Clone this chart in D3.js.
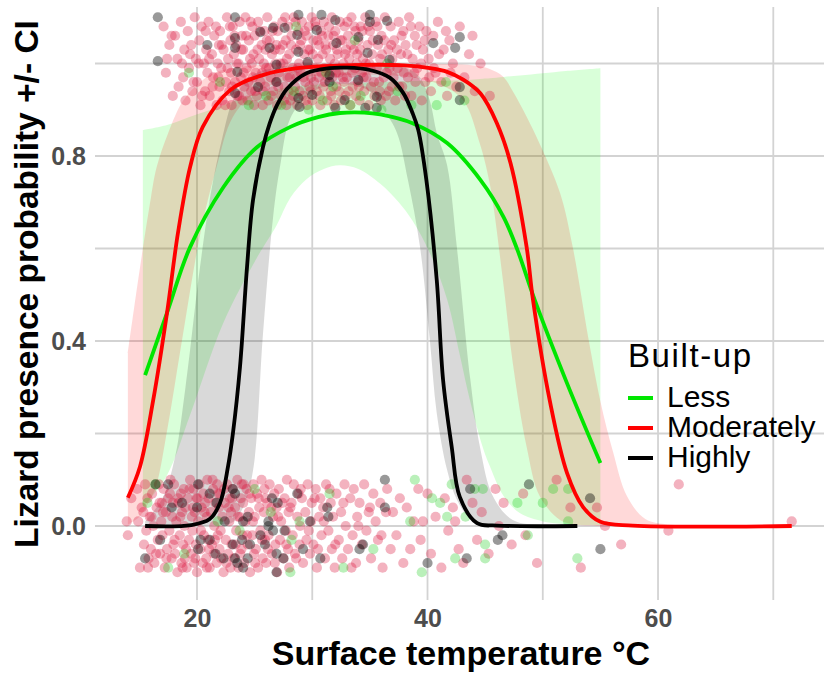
<!DOCTYPE html>
<html>
<head>
<meta charset="utf-8">
<script src="https://cdn.jsdelivr.net/npm/d3@7"></script>
<style>
  body { margin: 0; background: #fff; }
  svg { display: block; font-family: "Liberation Sans", Arial, Helvetica, sans-serif; }
</style>
</head>
<body>
<div id="chart"></div>
<script>
// groups, in legend order
const groups = ["Less", "Moderately", "Highly"]
const lineColors = { Less: "#00e600", Moderately: "#ff0000", Highly: "#000000" }

// fitted curves: [temperature, probability]
const fitLess = [[15.5,0.326],[17.4,0.461],[19.4,0.603],[22.3,0.733],[25.2,0.819],[28.1,0.863],[30.5,0.884],[32.4,0.893],[34.5,0.894],[35.9,0.89],[38.7,0.871],[41.7,0.828],[44.6,0.748],[46.6,0.668],[47.8,0.597],[49.3,0.489],[52.1,0.309],[55.0,0.136]]
const fitModerately = [[14.0,0.061],[15.05,0.128],[16.2,0.272],[17.4,0.461],[18.35,0.634],[19.4,0.776],[20.5,0.863],[22.9,0.943],[25.7,0.975],[28.7,0.99],[34.4,0.997],[38.0,0.996],[40.2,0.99],[41.7,0.982],[43.1,0.965],[44.6,0.935],[46.0,0.872],[47.2,0.785],[48.6,0.603],[49.15,0.489],[50.6,0.272],[52.1,0.115],[53.5,0.041],[55.0,0.009],[57.8,0.001],[71.6,0]]
const fitHighly = [[15.5,0],[19.5,0.002],[21.1,0.015],[22.0,0.05],[22.7,0.13],[23.12,0.201],[23.73,0.344],[24.34,0.56],[24.86,0.705],[25.73,0.82],[26.3,0.87],[26.94,0.91],[27.8,0.945],[29.5,0.979],[31.5,0.99],[33.0,0.991],[35.0,0.986],[36.75,0.969],[37.9,0.936],[38.7,0.893],[39.2,0.856],[39.9,0.748],[40.8,0.532],[41.35,0.316],[42.1,0.171],[42.8,0.063],[44.3,0.006],[46.0,0.001],[53.0,0]]

// confidence bands: [temperature, lower, upper]
const ciLess = [[15.3,0.04,0.856],[17.4,0.11,0.867],[19.4,0.24,0.885],[22.3,0.44,0.91],[25.2,0.58,0.935],[26.9,0.65,0.944],[28.1,0.71,0.95],[29.5,0.75,0.953],[31,0.772,0.955],[32.4,0.78,0.956],[34,0.772,0.958],[35.9,0.74,0.96],[37.5,0.70,0.961],[38.7,0.66,0.962],[40.2,0.59,0.962],[41.7,0.49,0.963],[42.8,0.37,0.964],[43.7,0.27,0.965],[44.8,0.17,0.967],[45.4,0.13,0.968],[46.6,0.065,0.971],[48,0.028,0.974],[50,0.01,0.979],[52,0.004,0.984],[55,0.002,0.99]]
const ciModerately = [[14,0.003,0.374],[15,0.02,0.55],[16,0.06,0.71],[16.5,0.09,0.776],[17.5,0.22,0.85],[18.8,0.417,0.92],[20.3,0.633,0.96],[21.7,0.776,0.982],[23.1,0.884,0.99],[25,0.935,0.996],[28,0.965,0.999],[33,0.975,0.999],[38,0.972,0.999],[41,0.955,0.999],[43.1,0.92,0.998],[44.5,0.83,0.994],[45.4,0.74,0.988],[46.55,0.53,0.972],[47.4,0.352,0.94],[48.6,0.171,0.885],[49.76,0.063,0.825],[51.5,0.013,0.72],[52.6,0.004,0.603],[54,0.001,0.4],[55,0,0.27],[56.1,0,0.16],[57.3,0,0.065],[58.9,0,0.015],[61,0,0.003],[65,0,0.0005],[71.6,0,0]]
const ciHighly = [[15.5,0,0.01],[17,0,0.06],[18.1,0,0.15],[19,0,0.3],[20.26,0.0005,0.56],[21.2,0.001,0.72],[22.2,0.003,0.84],[23.1,0.008,0.92],[24,0.04,0.955],[24.86,0.12,0.975],[25.73,0.417,0.985],[26.6,0.667,0.99],[27.2,0.776,0.993],[28.07,0.88,0.996],[29.5,0.93,0.998],[31,0.95,0.999],[33,0.955,0.999],[35,0.94,0.999],[36.2,0.9,0.998],[37.35,0.85,0.995],[38.3,0.748,0.99],[39.35,0.603,0.97],[40.2,0.402,0.92],[40.8,0.244,0.85],[41.7,0.121,0.78],[42.56,0.056,0.6],[43.7,0.015,0.32],[44.56,0.006,0.17],[45.7,0.002,0.063],[47.4,0.0005,0.013],[50,0,0.002],[53,0,0]]

// jittered observations: [temperature, presence]
const obsModerately = [
  [17.1,1.08],[17.3,0.98],[17.6,1.04],[17.9,0.93],[18.1,1.06],[18.3,1.01],[18.4,0.95],[18.6,1.09],[18.8,0.97],[18.9,1.03],
  [19.0,0.92],[19.2,1.07],[19.3,0.99],[19.5,1.04],[19.6,0.94],[19.8,1.10],[19.9,1.01],[20.0,0.96],[20.2,1.05],[20.3,0.91],
  [20.4,1.08],[20.6,1.00],[20.7,0.94],[20.8,1.03],[20.9,0.98],[21.0,1.09],[21.1,0.93],[21.3,1.02],[21.4,0.97],[21.5,1.06],
  [21.7,0.91],[21.8,1.00],[21.9,1.04],[21.95,0.95],[22.0,1.07],[22.1,0.99],[22.2,0.92],[22.3,1.03],[22.5,0.96],[22.6,1.10],
  [22.7,1.01],[22.8,0.94],[22.9,1.05],[22.95,0.98],[23.0,0.91],[23.1,1.08],[23.2,1.02],[23.3,0.96],[23.4,1.04],[23.5,0.93],
  [23.6,1.00],[23.7,1.09],[23.8,0.97],[23.9,1.06],[23.95,0.92],[24.0,1.03],[24.1,0.95],[24.2,1.10],[24.3,0.99],[24.4,0.92],
  [24.5,1.05],[24.6,1.01],[24.7,0.94],[24.8,1.08],[24.85,0.97],[24.9,1.02],[24.95,0.91],[25.0,1.06],[25.1,0.98],[25.2,0.93],
  [25.3,1.09],[25.4,1.01],[25.5,0.96],[25.6,1.04],[25.7,0.91],[25.8,1.00],[25.85,1.07],[25.9,0.95],[25.95,1.03],[26.0,0.99],
  [26.1,1.10],[26.2,0.92],[26.3,1.05],[26.4,0.97],[26.5,1.02],[26.6,0.94],[26.7,1.08],[26.8,1.00],[26.85,0.96],[26.9,1.04],
  [26.95,0.91],[27.0,1.07],[27.1,0.98],[27.2,1.03],[27.3,0.93],[27.4,1.09],[27.5,1.00],[27.6,0.95],[27.7,1.05],[27.75,0.91],
  [27.8,1.01],[27.85,0.97],[27.9,1.08],[27.95,0.94],[28.0,1.02],[28.1,0.92],[28.2,1.06],[28.3,0.99],[28.4,1.10],[28.5,0.95],
  [28.6,1.03],[28.65,0.97],[28.7,0.91],[28.8,1.07],[28.85,1.00],[28.9,0.94],[28.95,1.04],[29.0,0.98],[29.1,1.09],[29.2,0.93],
  [29.3,1.02],[29.4,0.96],[29.5,1.06],[29.55,0.91],[29.6,1.00],[29.7,1.08],[29.75,0.95],[29.8,1.03],[29.9,0.97],[29.95,1.10],
  [30.0,0.92],[30.1,1.05],[30.2,0.99],[30.3,1.08],[30.4,0.94],[30.5,1.01],[30.55,0.97],[30.6,1.04],[30.7,0.91],[30.75,1.07],
  [30.8,0.98],[30.9,1.02],[30.95,0.95],[31.0,1.09],[31.1,0.96],[31.2,1.03],[31.3,0.92],[31.4,1.06],[31.5,0.99],[31.55,1.01],
  [31.6,0.94],[31.7,1.10],[31.75,0.97],[31.8,1.04],[31.9,0.91],[31.95,1.00],[32.0,1.07],[32.1,0.95],[32.2,1.02],[32.3,0.98],
  [32.4,1.09],[32.5,0.92],[32.6,1.05],[32.7,1.00],[32.75,0.96],[32.8,1.08],[32.9,0.93],[32.95,1.03],[33.0,0.97],[33.1,1.06],
  [33.2,1.01],[33.3,0.91],[33.4,1.10],[33.5,0.95],[33.6,1.03],[33.7,0.99],[33.75,1.07],[33.8,0.93],[33.9,1.02],[33.95,0.96],
  [34.0,1.05],[34.1,0.92],[34.2,1.08],[34.3,0.98],[34.4,1.01],[34.5,0.94],[34.6,1.10],[34.7,0.97],[34.8,1.04],[34.9,0.91],
  [34.95,1.00],[35.0,1.07],[35.1,0.95],[35.2,1.02],[35.4,0.93],[35.5,1.09],[35.6,0.99],[35.7,1.04],[35.8,0.96],[35.9,1.01],
  [35.95,0.92],[36.0,1.06],[36.2,0.97],[36.3,1.10],[36.4,0.93],[36.6,1.03],[36.7,0.99],[36.8,1.08],[36.9,0.95],[36.95,1.01],
  [37.1,1.05],[37.2,0.92],[37.4,0.99],[37.5,1.09],[37.7,1.02],[37.8,0.95],[37.9,1.07],[37.95,0.98],[38.1,1.04],[38.3,0.97],
  [38.4,1.10],[38.6,0.93],[38.7,1.01],[38.9,1.06],[38.95,0.96],[39.1,0.99],[39.3,1.08],[39.5,0.92],[39.6,1.03],[39.8,0.96],
  [39.9,1.07],[40.1,1.01],[40.3,0.94],[40.5,1.06],[40.7,0.98],[40.9,1.09],[41.2,0.96],[41.4,1.03],[41.7,0.93],[41.9,1.05],
  [42.2,1.00],[42.5,0.95],[42.8,1.08],[43.2,0.97],[43.6,1.02],[44.1,0.94],[45.4,0.93],
  [20.15,1.00],[20.45,0.93],[20.75,1.07],[21.05,1.01],[21.35,0.95],[21.65,1.08],[21.85,0.97],[22.15,1.04],[22.45,0.91],[22.65,0.99],
  [22.85,1.08],[23.05,0.95],[23.25,1.06],[23.45,1.00],[23.65,0.93],[23.85,1.03],[24.05,0.98],[24.25,1.06],[24.45,0.96],[24.65,1.09],
  [24.75,1.00],[25.05,0.94],[25.25,1.03],[25.45,1.07],[25.65,0.98],[25.75,0.94],[26.05,1.05],[26.25,0.99],[26.45,0.93],[26.55,1.07],
  [26.75,1.03],[27.05,0.95],[27.25,1.00],[27.45,1.04],[27.55,0.92],[27.65,1.10],[28.05,0.97],[28.15,1.04],[28.35,0.93],[28.55,1.09],
  [28.75,0.99],[29.05,1.05],[29.25,0.97],[29.35,1.07],[29.45,0.92],[29.65,1.03],[29.85,0.94],[30.05,1.02],[30.15,0.96],[30.25,1.09],
  [30.45,1.05],[30.65,0.93],[30.85,1.06],[31.05,0.99],[31.15,1.04],[31.35,0.97],[31.45,1.08],[31.65,0.93],[31.85,1.06],[32.05,0.98],
  [32.15,1.03],[32.35,0.94],[32.45,1.05],[32.65,0.97],[32.85,1.02],[33.05,1.09],[33.15,0.94],[33.35,1.04],[33.45,0.98],[33.65,1.08],
  [33.85,1.00],[34.05,0.95],[34.15,1.03],[34.35,1.07],[34.45,0.97],[34.65,1.00],[34.85,1.08],[35.05,0.99],[35.25,1.05],[35.35,0.96],
  [35.65,1.08],[35.85,0.94],[36.05,1.02],[36.25,1.05],[36.45,0.98],[36.65,0.94],[36.85,1.04],[37.05,0.97],[37.35,1.03],[37.55,0.95],
  [37.75,1.06],[38.05,0.93],[38.25,1.02],[38.55,1.08],[38.85,0.98],[39.05,1.04],[39.45,1.00],[39.75,1.05],[40.15,0.97],[40.55,0.99],
  [19.4,1.02],[19.7,0.96],[18.7,1.00],[17.4,1.01],[17.8,1.06],[41.0,1.02],[41.6,1.07],[42.0,0.98],[43.9,1.06],[44.6,1.00],
  [13.9,0.01],[14.0,-0.02],[14.3,0.06],[14.8,0.08],[14.9,0.01],[15.05,-0.09],[15.2,0.04],[15.4,-0.04],[15.5,0.09],[15.6,-0.01],
  [15.7,0.06],[15.8,-0.07],[15.9,0.02],[16.0,-0.05],[16.1,0.07],[16.2,0.00],[16.3,-0.08],[16.5,0.04],[16.6,-0.03],[16.7,0.09],
  [16.8,-0.06],[16.9,0.01],[16.95,0.05],[17.0,-0.02],[17.1,0.08],[17.2,-0.09],[17.3,0.03],[17.4,-0.05],[17.5,0.06],[17.6,-0.01],
  [17.7,0.10],[17.8,-0.07],[17.85,0.02],[17.9,0.05],[17.95,-0.04],[18.0,0.09],[18.1,-0.06],[18.2,0.01],[18.3,-0.10],[18.4,0.05],
  [18.5,-0.02],[18.6,0.07],[18.65,-0.08],[18.7,0.03],[18.8,-0.04],[18.85,0.08],[18.9,0.00],[18.95,-0.07],[19.0,0.04],[19.1,-0.09],
  [19.2,0.06],[19.3,-0.03],[19.4,0.10],[19.5,-0.06],[19.55,0.02],[19.6,-0.01],[19.7,0.08],[19.75,-0.08],[19.8,0.03],[19.9,-0.04],
  [19.95,0.06],[20.0,-0.10],[20.1,0.01],[20.2,0.09],[20.3,-0.05],[20.4,0.04],[20.5,-0.08],[20.55,0.07],[20.6,-0.02],[20.7,0.05],
  [20.8,-0.07],[20.85,0.02],[20.9,0.10],[20.95,-0.03],[21.0,0.06],[21.1,-0.09],[21.2,0.03],[21.3,-0.04],[21.4,0.08],[21.45,-0.06],
  [21.5,0.00],[21.6,0.05],[21.7,-0.08],[21.75,0.09],[21.8,-0.02],[21.9,0.04],[21.95,-0.05],[22.0,0.07],[22.1,-0.07],[22.2,0.02],
  [22.3,-0.10],[22.4,0.05],[22.5,-0.03],[22.6,0.09],[22.7,-0.06],[22.8,0.01],[22.85,0.06],[22.9,-0.09],[22.95,0.03],[23.0,-0.04],
  [23.1,0.08],[23.2,-0.07],[23.3,0.04],[23.4,-0.01],[23.5,0.10],[23.6,-0.09],[23.7,0.02],[23.8,0.06],[23.85,-0.05],[23.9,0.09],
  [23.95,-0.02],[24.0,0.05],[24.1,-0.08],[24.2,0.01],[24.3,0.08],[24.4,-0.04],[24.5,0.03],[24.6,-0.10],[24.7,0.06],[24.8,-0.02],
  [24.9,0.09],[24.95,-0.06],[25.0,0.02],[25.1,-0.05],[25.2,0.07],[25.3,-0.09],[25.4,0.04],[25.5,-0.01],[25.6,0.10],[25.7,-0.07],
  [25.8,0.03],[25.9,-0.03],[25.95,0.06],[26.0,-0.08],[26.1,0.05],[26.2,-0.02],[26.3,0.09],[26.5,-0.06],[26.6,0.02],[26.7,0.07],
  [26.8,-0.04],[26.9,0.04],[26.95,-0.10],[27.1,0.08],[27.2,-0.03],[27.3,0.01],[27.5,-0.07],[27.6,0.06],[27.7,-0.01],[27.8,0.10],
  [27.9,-0.05],[27.95,0.03],[28.0,-0.09],[28.2,0.05],[28.3,-0.02],[28.4,0.09],[28.5,-0.06],[28.7,0.02],[28.8,0.07],[28.9,-0.04],
  [28.95,0.00],[29.1,0.06],[29.2,-0.08],[29.4,0.03],[29.5,-0.03],[29.6,0.09],[29.8,-0.06],[29.9,0.01],[29.95,0.05],[30.1,-0.04],
  [30.3,0.08],[30.4,-0.09],[30.6,0.02],[30.7,0.06],[30.8,-0.02],[30.95,0.04],[31.1,-0.07],[31.2,0.09],[31.4,-0.01],[31.6,0.05],
  [31.7,-0.05],[31.8,0.02],[31.95,-0.09],[32.1,0.07],[32.3,-0.03],[32.5,0.03],[32.6,-0.07],[32.8,0.09],[32.9,0.00],[33.1,-0.05],
  [33.3,0.06],[33.5,-0.02],[33.6,0.08],[33.8,-0.08],[33.9,0.02],[34.1,0.05],[34.3,-0.04],[34.5,0.09],[34.7,-0.01],[34.9,0.03],
  [35.1,-0.07],[35.3,0.07],[35.5,0.01],[35.7,-0.03],[35.9,0.05],[36.1,-0.09],[36.4,0.03],[36.5,0.08],[36.8,-0.05],[37.0,0.03],
  [37.3,-0.02],[37.6,0.06],[37.9,-0.08],[38.2,0.04],[38.5,-0.05],[38.8,0.01],[39.2,0.08],[39.4,-0.03],[39.6,0.01],[40.0,0.07],
  [40.3,-0.06],[40.7,0.02],[41.2,-0.09],[41.5,0.06],[41.8,-0.01],[42.2,0.04],[42.4,0.01],[42.7,-0.05],[43.1,-0.08],[43.4,0.10],
  [43.9,0.05],[44.3,-0.03],[44.7,0.03],[45.3,-0.06],[45.9,0.08],[46.2,0.00],[46.6,0.05],[47.3,-0.04],[48.3,0.07],[48.5,-0.02],
  [49.5,-0.08],[51.2,0.10],[52.4,0.04],[53.3,-0.09],[54.7,0.04],[55.4,0.00],[56.8,-0.04],[60.9,-0.01],[61.8,0.09],[71.6,0.01],
  [15.35,0.03],[15.75,-0.09],[16.05,0.02],[16.45,-0.06],[16.75,0.05],[17.05,0.03],[17.35,-0.07],[17.65,0.07],[18.05,-0.03],[18.35,0.06],
  [18.55,0.02],[18.75,-0.09],[19.05,-0.05],[19.35,0.08],[19.65,0.04],[19.85,-0.07],[20.05,0.06],[20.35,-0.01],[20.65,0.03],[20.85,-0.09],
  [21.05,-0.05],[21.35,0.10],[21.55,-0.03],[21.85,0.07],[22.05,-0.01],[22.35,0.08],[22.55,-0.08],[22.75,0.04],[23.05,0.06],[23.35,-0.04],
  [23.55,0.02],[23.75,-0.06],[24.05,0.09],[24.35,-0.02],[24.55,0.07],[24.85,0.01],[25.05,-0.08],[25.35,0.06],[25.65,-0.03],[25.85,0.08],
  [26.15,-0.05],[26.45,0.04],[26.75,-0.08],[27.05,0.02],[27.4,0.05],[27.75,-0.04],[28.1,0.04],[28.6,-0.07],[29.0,0.08],[29.7,-0.01],
  [30.2,0.06],[30.5,-0.05],[31.0,0.01],[31.5,0.08],[32.0,-0.04],[32.7,0.05],[33.4,-0.09],[34.0,0.00],[35.0,0.04],[36.0,-0.02]
]
const obsLess = [
  [24.5,0.91],[26.0,0.93],[27.3,0.91],[28.4,0.94],[29.7,0.90],[30.9,0.92],[31.8,0.95],[33.3,0.91],[34.2,0.93],[36.0,0.90],
  [37.4,0.94],[38.6,0.91],[40.8,0.91],[41.6,0.96],[43.2,0.92],[22.0,0.96],[19.3,0.98],[33.7,1.05],[28.6,1.08],[36.5,1.00],[31.2,0.98],
  [16.4,0.09],[17.5,-0.09],[21.8,0.01],[25.0,0.08],[28.2,-0.03],[28.1,-0.10],[28.9,0.01],[31.5,0.07],[32.7,-0.09],[35.3,-0.05],
  [38.5,0.01],[38.9,0.10],[39.5,-0.10],[40.4,0.06],[41.1,0.05],[41.7,0.02],[42.1,0.09],[42.4,-0.07],[43.3,0.02],[44.1,0.08],
  [44.8,0.08],[45.0,-0.04],[45.0,-0.07],[47.8,0.05],[48.7,-0.02],[50.0,0.05],[50.9,0.08],[52.2,0.08],[52.2,0.01],[53.0,-0.07],
  [15.7,0.05],[18.9,-0.06],[23.7,-0.01],[26.4,0.03]
]
const obsHighly = [
  [16.6,1.10],[16.6,1.005],[20.9,1.04],[23.3,1.10],[23.3,1.055],[23.3,1.034],[23.5,0.982],[23.3,0.936],[25.5,1.068],[25.3,0.949],
  [26.6,1.077],[26.3,1.034],[26.9,0.997],[26.9,0.96],[27.6,1.077],[28.8,1.105],[28.7,1.062],[28.8,1.025],[28.8,0.925],[28.9,0.906],
  [29.6,1.003],[30.0,0.932],[30.4,1.072],[30.8,1.105],[31.5,0.975],[31.5,0.96],[32.0,1.094],[32.1,1.044],[32.0,0.904],[32.8,0.921],
  [34.0,1.057],[34.0,0.964],[34.6,0.904],[34.8,1.023],[35.0,1.105],[35.0,1.09],[35.7,1.051],[35.6,0.928],[35.6,0.904],[36.5,1.092],
  [36.7,1.008],[40.5,1.044],[42.4,1.034],[42.8,1.057],[42.8,0.949],[42.8,0.921],
  [15.5,-0.07],[16.4,0.09],[16.8,-0.03],[17.5,0.09],[17.8,0.04],[18.7,0.05],[20.0,0.04],[20.1,0.09],[20.1,-0.05],[20.3,-0.03],
  [21.1,0.07],[21.1,-0.03],[21.6,-0.06],[21.7,0.05],[22.3,-0.07],[22.4,0.01],[23.1,0.08],[23.1,-0.04],[23.3,0.07],[23.3,-0.07],
  [23.5,-0.08],[23.9,-0.03],[24.0,0.01],[24.0,-0.09],[24.4,0.02],[24.4,-0.07],[24.6,-0.04],[25.5,-0.02],[25.9,-0.04],[26.2,0.01],
  [26.2,0.00],[26.5,0.06],[26.6,-0.01],[26.9,-0.06],[26.9,-0.10],[27.0,0.05],[27.5,-0.07],[27.6,-0.01],[28.7,0.07],[29.2,-0.05],
  [29.8,0.01],[30.7,-0.07],[31.3,0.04],[31.4,0.02],[34.1,-0.05],[34.4,-0.04],[36.3,0.10],[36.3,0.04],[40.0,-0.08],[43.4,-0.07],
  [43.7,0.08],[46.1,-0.03],[46.5,-0.02],[48.8,0.09],[54.1,0.06],[55.0,-0.05]
]

const fits = { Less: fitLess, Moderately: fitModerately, Highly: fitHighly }
const cis = { Less: ciLess, Moderately: ciModerately, Highly: ciHighly }
const pointSets = [
  { data: obsModerately, color: "#dc143c", opacity: 0.33 },
  { data: obsLess, color: "#00c800", opacity: 0.27 },
  { data: obsHighly, color: "#000000", opacity: 0.4 }
]

const xTicks = [20, 40, 60]
const xMinor = [30, 50, 70]
const yTicks = [0, 0.4, 0.8]
const yMinor = [0.2, 0.6, 1.0]

const width = 826
const height = 673
const margin = { top: 7, right: 2, bottom: 73, left: 95 }

const x = d3.scaleLinear().domain([11.15, 74.4]).range([margin.left, width - margin.right])
const y = d3.scaleLinear().domain([-0.16, 1.1222]).range([height - margin.bottom, margin.top])

const svg = d3.select("#chart").append("svg")
  .attr("width", width)
  .attr("height", height)

// grid
const grid = svg.append("g").attr("stroke", "#d3d3d3").attr("stroke-width", 1.8)
grid.selectAll(".gx")
  .data(xTicks.concat(xMinor))
  .join("line")
  .attr("x1", d => x(d)).attr("x2", d => x(d))
  .attr("y1", y.range()[1]).attr("y2", y.range()[0])
grid.selectAll(".gy")
  .data(yTicks.concat(yMinor))
  .join("line")
  .attr("x1", x.range()[0]).attr("x2", x.range()[1])
  .attr("y1", d => y(d)).attr("y2", d => y(d))

const smooth = d3.curveCatmullRom.alpha(0.5)

// confidence ribbons
const area = d3.area()
  .x(d => x(d[0]))
  .y0(d => y(d[1]))
  .y1(d => y(d[2]))
  .curve(smooth)

svg.append("g").selectAll("path")
  .data(groups)
  .join("path")
  .attr("d", g => area(cis[g]))
  .attr("fill", g => g === "Less" ? "#00ff00" : lineColors[g])
  .attr("fill-opacity", 0.15)

// jittered observations
pointSets.forEach(set => {
  svg.append("g").selectAll("circle")
    .data(set.data)
    .join("circle")
    .attr("cx", d => x(d[0]))
    .attr("cy", d => y(d[1]))
    .attr("r", 5.1)
    .attr("fill", set.color)
    .attr("fill-opacity", set.opacity)
})

// fitted curves
const line = d3.line()
  .x(d => x(d[0]))
  .y(d => y(d[1]))
  .curve(smooth)

svg.append("g").selectAll("path")
  .data(groups)
  .join("path")
  .attr("d", g => line(fits[g]))
  .attr("fill", "none")
  .attr("stroke", g => lineColors[g])
  .attr("stroke-width", 3.8)

// axes (labels only)
const xAxis = svg.append("g")
  .attr("transform", `translate(0,${y.range()[0]})`)
  .call(d3.axisBottom(x).tickValues(xTicks).tickSize(0).tickPadding(9))
const yAxis = svg.append("g")
  .attr("transform", `translate(${margin.left},0)`)
  .call(d3.axisLeft(y).tickValues(yTicks).tickSize(0).tickPadding(9).tickFormat(d3.format(".1f")))

;[xAxis, yAxis].forEach(a => {
  a.select(".domain").remove()
  a.selectAll("text")
    .attr("font-family", "Liberation Sans, Arial, sans-serif")
    .attr("font-size", 25)
    .attr("font-weight", "bold")
    .attr("fill", "#4d4d4d")
})

// axis titles
svg.append("text")
  .attr("x", 461)
  .attr("y", 665)
  .attr("text-anchor", "middle")
  .attr("font-size", 34)
  .attr("font-weight", "bold")
  .text("Surface temperature °C")

svg.append("text")
  .attr("transform", "translate(38,284) rotate(-90)")
  .attr("text-anchor", "middle")
  .attr("font-size", 33.5)
  .attr("font-weight", "bold")
  .text("Lizard presence probability +/- CI")

// legend
const legend = svg.append("g").attr("transform", "translate(628,367)")
legend.append("text")
  .attr("x", 0)
  .attr("y", 0)
  .attr("font-size", 33)
  .attr("letter-spacing", 1.6)
  .text("Built-up")

const item = legend.selectAll(".item")
  .data(groups)
  .join("g")
  .attr("transform", (d, i) => `translate(0,${40 + i * 30})`)
item.append("line")
  .attr("x1", 0).attr("x2", 25)
  .attr("y1", -9).attr("y2", -9)
  .attr("stroke", d => lineColors[d])
  .attr("stroke-width", 4)
item.append("text")
  .attr("x", 39)
  .attr("y", 0)
  .attr("font-size", 30)
  .text(d => d)
</script>
</body>
</html>
